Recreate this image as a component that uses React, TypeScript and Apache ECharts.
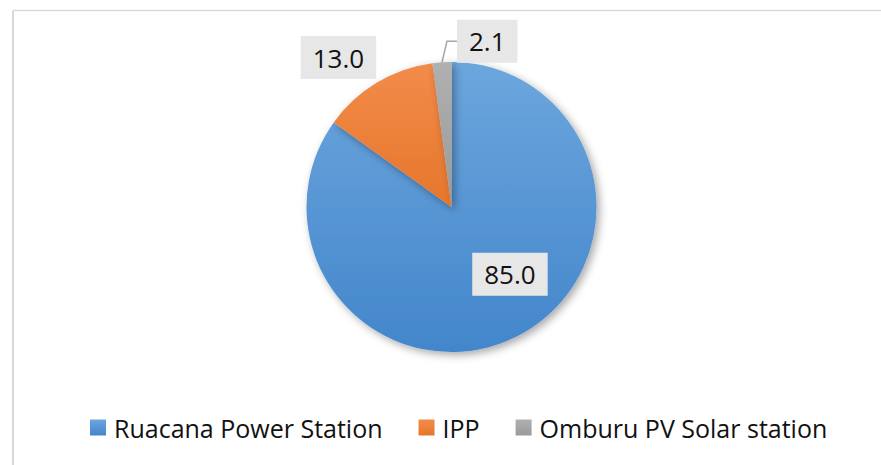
import React, { useEffect, useRef } from "react";
import * as echarts from "echarts";

const categories = ["Ruacana Power Station", "IPP", "Omburu PV Solar station"];
const values = [85.0, 13.0, 2.1];
const colorTop = ["#6ca6dd", "#f28c4a", "#b0b0b0"];
const colorBottom = ["#4386cb", "#e6762b", "#9a9a9a"];

export default function App() {
  const ref = useRef<HTMLDivElement>(null);
  useEffect(() => {
    const chart = echarts.init(ref.current!, null, { renderer: "svg" });
    const grad = (i: number) =>
      new echarts.graphic.LinearGradient(0, 0, 0, 1, [
        { offset: 0, color: colorTop[i] },
        { offset: 1, color: colorBottom[i] },
      ]);
    const labelBox = {
      backgroundColor: "#e7e7e7",
      color: "#111",
      fontFamily: "Open Sans",
      fontSize: 26,
      lineHeight: 26,
      padding: [9, 12, 8, 12],
      formatter: (p: any) => p.value.toFixed(1),
    };
    chart.setOption({
      animation: false,
      backgroundColor: "#ffffff",
      legend: {
        bottom: 20,
        left: 85,
        itemWidth: 16,
        itemHeight: 16,
        itemGap: 36,
        icon: "rect",
        textStyle: { fontFamily: "Open Sans", fontSize: 25, color: "#111", padding: [0, 0, 0, 3] },
        data: categories,
      },
      graphic: [
        { type: "line", shape: { x1: 13, y1: 10.5, x2: 881, y2: 10.5 }, style: { stroke: "#d9d9d9", lineWidth: 1.5 } },
        { type: "line", shape: { x1: 13, y1: 10.5, x2: 13, y2: 465 }, style: { stroke: "#d9d9d9", lineWidth: 2 } },
      ],
      series: [
        {
          type: "pie",
          center: [451.5, 207],
          radius: [0, 145],
          startAngle: 90,
          clockwise: true,
          avoidLabelOverlap: false,
          itemStyle: {
            shadowBlur: 8,
            shadowColor: "rgba(0,0,0,0.35)",
            shadowOffsetX: 3,
            shadowOffsetY: 3,
          },
          labelLine: { show: true, length: 21, length2: 10, lineStyle: { color: "#a6a6a6", width: 1.5 } },
          labelLayout: (p: any) => {
            if (p.dataIndex === 0) return { dx: 24, dy: 0 };
            if (p.dataIndex === 1) return { dx: 25, dy: -7 };
            const pts = p.labelLinePoints;
            if (!pts) return {};
            const p0 = pts[0];
            const p1 = [p0[0] + 5, p0[1] - 21];
            const p2 = [p1[0] + 10, p1[1]];
            return {
              x: p2[0],
              y: p2[1],
              align: "left",
              verticalAlign: "middle",
              labelLinePoints: [p0, p1, p2],
            };
          },
          data: values.map((v, i) => ({
            name: categories[i],
            value: v,
            itemStyle: { color: grad(i) },
            label:
              i === 0
                ? { show: true, position: "inside", ...labelBox }
                : { show: true, position: "outside", ...labelBox },
            labelLine: { show: i === 2 },
          })),
        },
      ],
    });
    return () => chart.dispose();
  }, []);
  return (
    <div
      ref={ref}
      style={{ position: "fixed", left: 0, top: 0, width: 881, height: 465 }}
    />
  );
}
